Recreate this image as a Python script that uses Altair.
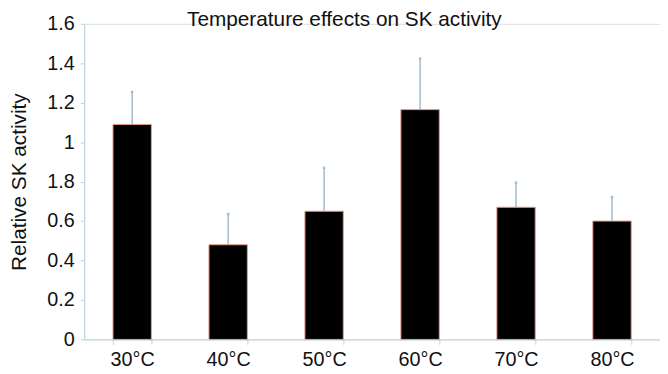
import altair as alt
import pandas as pd

temps = ["30°C", "40°C", "50°C", "60°C", "70°C", "80°C"]
means = [1.09, 0.48, 0.65, 1.165, 0.67, 0.60]
uppers = [1.255, 0.636, 0.87, 1.424, 0.795, 0.722]
y_ticks = [0, 0.2, 0.4, 0.6, 0.8, 1.0, 1.2, 1.4, 1.6]

df = pd.DataFrame({"temp": temps, "mean": means, "upper": uppers})

FONT = "Liberation Sans"
AXIS_COL = "#b9d3e0"
ERR_COL = "#8aaac0"

x_axis = alt.Axis(labelAngle=0, labelAlign="center", labelFontSize=20, labelFont=FONT,
                  labelColor="#111", domainColor=AXIS_COL, tickColor=AXIS_COL,
                  tickBand="extent", tickSize=5, labelPadding=5)
y_axis = alt.Axis(values=y_ticks, grid=False, labelOverlap=False,
                  labelExpr="datum.value == 0.8 ? '1.8' : format(datum.value, '.1~f')",
                  labelFontSize=20, labelFont=FONT, labelColor="#111",
                  titleFontSize=21, titleFont=FONT, titleFontWeight="normal",
                  titleColor="#111", titlePadding=18,
                  domainColor=AXIS_COL, tickColor=AXIS_COL, tickSize=4,
                  labelPadding=6)

x_scale = alt.Scale(paddingInner=0.6, paddingOuter=0.3)
y_scale = alt.Scale(domain=[0, 1.6], nice=False)

X = alt.X("temp:N", sort=temps, title=None, scale=x_scale, axis=x_axis)

bars = alt.Chart(df).mark_bar(color="black", stroke="#e9a088", strokeWidth=1).encode(
    x=X,
    y=alt.Y("mean:Q", scale=y_scale, title="Relative SK activity", axis=y_axis),
)

err = alt.Chart(df).mark_rule(color=ERR_COL, strokeWidth=1.2).encode(
    x=X,
    y=alt.Y("mean:Q", scale=y_scale, title="Relative SK activity", axis=y_axis),
    y2="upper:Q",
)

cap = alt.Chart(df).mark_point(shape="square", size=6, filled=True, color=ERR_COL).encode(
    x=X,
    y=alt.Y("upper:Q", scale=y_scale, title="Relative SK activity", axis=y_axis),
)

chart = alt.layer(bars, err, cap).properties(
    width=582, height=319,
    title=alt.TitleParams("Temperature effects on SK activity", fontSize=21, font=FONT,
                          fontWeight="normal", color="#111", offset=-16, dx=-28),
    autosize=alt.AutoSizeParams(type="none"),
    padding={"left": 77, "top": 14, "right": 0, "bottom": 36},
).configure_view(stroke=None).configure(background="white")

chart.save("out.html", embed_options={"renderer": "svg", "actions": False})
